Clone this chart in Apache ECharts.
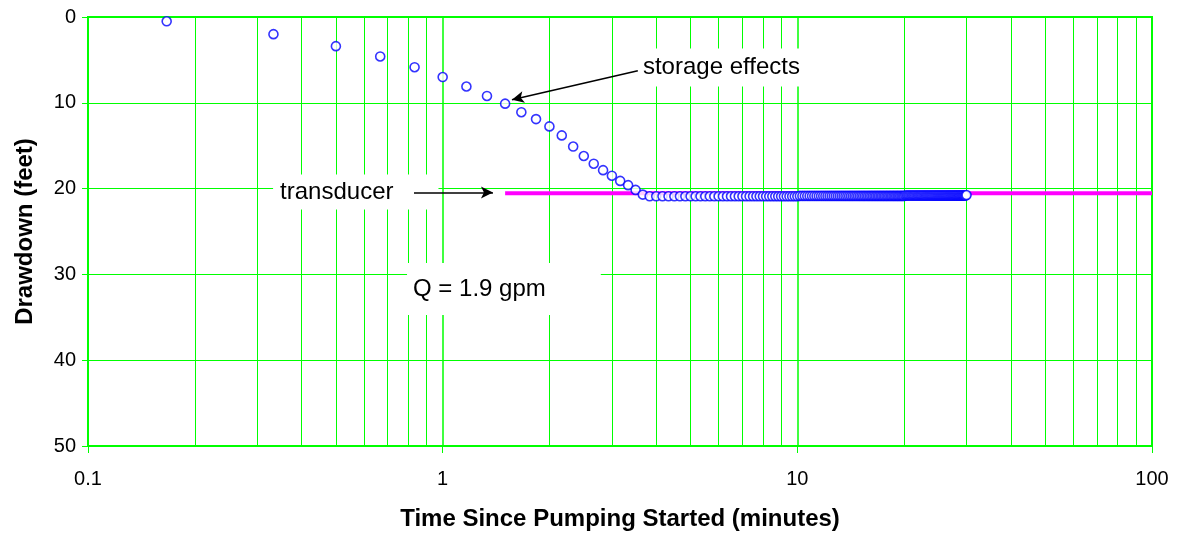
<!DOCTYPE html>
<html>
<head>
<meta charset="utf-8">
<script src="https://cdn.jsdelivr.net/npm/echarts@6/dist/echarts.min.js"></script>
<style>
html,body{margin:0;padding:0;background:#fff;}
#chart{width:1179px;height:535px;}
</style>
</head>
<body>
<div id="chart"></div>
<script>
// Elapsed time of each reading (seconds)
var elapsedSeconds = [
  10,20,30,40,50,60,70,80,90,100,110,120,130,140,150,160,170,180,190,200,
  210,220,230,240,250,260,270,280,290,300,310,320,330,340,350,360,370,380,390,400,
  410,420,430,440,450,460,470,480,490,500,510,520,530,540,550,560,570,580,590,600,
  610,620,630,640,650,660,670,680,690,700,710,720,730,740,750,760,770,780,790,800,
  810,820,830,840,850,860,870,880,890,900,910,920,930,940,950,960,970,980,990,1000,
  1010,1020,1030,1040,1050,1060,1070,1080,1090,1100,1110,1120,1130,1140,1150,1160,1170,1180,1190,1200,
  1210,1220,1230,1240,1250,1260,1270,1280,1290,1300,1310,1320,1330,1340,1350,1360,1370,1380,1390,1400,
  1410,1420,1430,1440,1450,1460,1470,1480,1490,1500,1510,1520,1530,1540,1550,1560,1570,1580,1590,1600,
  1610,1620,1630,1640,1650,1660,1670,1680,1690,1700,1710,1720,1730,1740,1750,1760,1770,1780,1790,1800
];
// Drawdown (feet) for each reading
var drawdownFt = [
  0.5,2.0,3.4,4.6,5.85,7.0,8.1,9.2,10.1,11.1,11.9,12.75,13.8,15.1,16.2,17.1,17.85,18.5,19.1,19.6,
  20.15,20.7,20.9,20.9,20.9,20.9,20.9,20.9,20.9,20.9,20.9,20.9,20.9,20.9,20.9,20.9,20.9,20.9,20.9,20.9,
  20.9,20.9,20.9,20.9,20.9,20.9,20.9,20.9,20.9,20.9,20.9,20.9,20.9,20.9,20.9,20.9,20.9,20.9,20.9,20.9,
  20.85,20.85,20.85,20.85,20.85,20.85,20.85,20.85,20.85,20.85,20.85,20.85,20.85,20.85,20.85,20.85,20.85,20.85,20.85,20.85,
  20.85,20.85,20.85,20.85,20.85,20.85,20.85,20.85,20.85,20.85,20.85,20.85,20.85,20.85,20.85,20.85,20.85,20.85,20.85,20.85,
  20.85,20.85,20.85,20.85,20.85,20.85,20.85,20.85,20.85,20.85,20.85,20.85,20.85,20.85,20.85,20.85,20.85,20.85,20.85,20.85,
  20.8,20.8,20.8,20.8,20.8,20.8,20.8,20.8,20.8,20.8,20.8,20.8,20.8,20.8,20.8,20.8,20.8,20.8,20.8,20.8,
  20.8,20.8,20.8,20.8,20.8,20.8,20.8,20.8,20.8,20.8,20.8,20.8,20.8,20.8,20.8,20.8,20.8,20.8,20.8,20.8,
  20.8,20.8,20.8,20.8,20.8,20.8,20.8,20.8,20.8,20.8,20.8,20.8,20.8,20.8,20.8,20.8,20.8,20.8,20.8,20.75
];
// Transducer depth line (time in minutes, drawdown in feet)
var transducerTime = [1.5, 100];
var transducerDepth = [20.55, 20.55];
// Minor log gridlines
var minorGridTimes = [0.2,0.3,0.4,0.5,0.6,0.7,0.8,0.9,2,3,4,5,6,7,8,9,20,30,40,50,60,70,80,90];
// Axis ticks
var yTicks = [0, 10, 20, 30, 40, 50];
var xTickLabels = ['0.1', '1', '10', '100'];
// Annotations (anchored in data coordinates: left edge of text, vertical centre)
var annotationTexts = ['storage effects', 'transducer', 'Q = 1.9 gpm'];
var annotationTime = [3.67, 0.348, 0.825];
var annotationDepth = [5.9, 20.4, 31.7];
var annotationPadding = [[6, 10, 8, 8], [4, 45, 7, 7], [8, 55, 20, 6]];
// Arrows: [time, depth] from -> to
var arrowFrom = [[3.55, 6.26], [0.83, 20.45]];
var arrowTo = [[1.568, 9.64], [1.386, 20.45]];

var FONT = 'Arial, "Liberation Sans", sans-serif';
var GREEN = '#00FF00';

var pts = elapsedSeconds.map(function (s, i) { return [s / 60, drawdownFt[i]]; });
var tline = transducerTime.map(function (t, i) { return [t, transducerDepth[i]]; });

var chart = echarts.init(document.getElementById('chart'), null, {renderer: 'canvas'});
var option = {
  animation: false,
  backgroundColor: '#ffffff',
  grid: {left: 88, right: 27, top: 17, bottom: 89, show: true, borderColor: GREEN, borderWidth: 2,
         backgroundColor: 'transparent', containLabel: false, outerBoundsMode: 'none'},
  xAxis: {
    type: 'log', logBase: 10, min: 0.1, max: 100,
    name: 'Time Since Pumping Started (minutes)', nameLocation: 'middle', nameGap: 61,
    nameTextStyle: {fontFamily: FONT, fontSize: 24, fontWeight: 'bold', color: '#000'},
    axisLine: {onZero: false, lineStyle: {color: GREEN, width: 2}},
    axisTick: {show: true, length: 7, lineStyle: {color: GREEN, width: 1}},
    axisLabel: {
      color: '#000', fontFamily: FONT, fontSize: 20, margin: 23,
      formatter: function (v) {
        var idx = Math.round(Math.log10(v) + 1);
        return xTickLabels[idx] !== undefined ? xTickLabels[idx] : '';
      }
    },
    splitLine: {show: true, lineStyle: {color: GREEN, width: 1.5}},
    minorTick: {show: false}, minorSplitLine: {show: false}
  },
  yAxis: {
    type: 'value', inverse: true, min: yTicks[0], max: yTicks[yTicks.length - 1], interval: 10,
    name: 'Drawdown (feet)', nameLocation: 'middle', nameGap: 51, nameRotate: 90,
    nameTextStyle: {fontFamily: FONT, fontSize: 24, fontWeight: 'bold', color: '#000'},
    axisLine: {show: true, onZero: false, lineStyle: {color: GREEN, width: 2}},
    axisTick: {show: true, length: 6, lineStyle: {color: GREEN, width: 1}},
    axisLabel: {color: '#000', fontFamily: FONT, fontSize: 20, margin: 12},
    splitLine: {show: true, lineStyle: {color: GREEN, width: 1}}
  },
  series: [
    {
      name: 'minorGrid', type: 'line', data: [], z: 0, silent: true,
      markLine: {
        z: 0, silent: true, symbol: ['none', 'none'], animation: false,
        label: {show: false},
        lineStyle: {color: GREEN, width: 1, type: 'solid'},
        emphasis: {disabled: true},
        data: minorGridTimes.map(function (t) { return {xAxis: t}; })
      }
    },
    {
      name: 'transducer', type: 'line', data: tline, z: 3, symbol: 'none',
      lineStyle: {color: '#FF00FF', width: 4}, silent: true
    },
    {
      name: 'arrows', type: 'line', data: [], z: 3, silent: true,
      markLine: {
        z: 5, silent: true, symbol: ['none', 'arrow'], symbolSize: [9, 12], animation: false,
        label: {show: false},
        lineStyle: {color: '#000', width: 1.5, type: 'solid'},
        emphasis: {disabled: true},
        data: arrowFrom.map(function (f, i) {
          return [{coord: f}, {coord: arrowTo[i]}];
        })
      }
    },
    {
      name: 'drawdown', type: 'scatter', data: pts, z: 4,
      symbol: 'circle', symbolSize: 9,
      itemStyle: {color: '#ffffff', borderColor: '#0000FF', borderWidth: 1.6},
      silent: true
    }
  ]
};
chart.setOption(option);

var graphics = annotationTexts.map(function (txt, i) {
  var p = chart.convertToPixel({gridIndex: 0}, [annotationTime[i], annotationDepth[i]]);
  var pad = annotationPadding[i];
  return {
    type: 'text', z: 1, zlevel: 0, silent: true,
    x: p[0] - pad[3], y: p[1],
    style: {
      text: txt, fill: '#000', font: '24px ' + FONT,
      verticalAlign: 'middle', align: 'left',
      backgroundColor: '#ffffff', padding: pad
    }
  };
});
chart.setOption({graphic: {elements: graphics}});
</script>
</body>
</html>
